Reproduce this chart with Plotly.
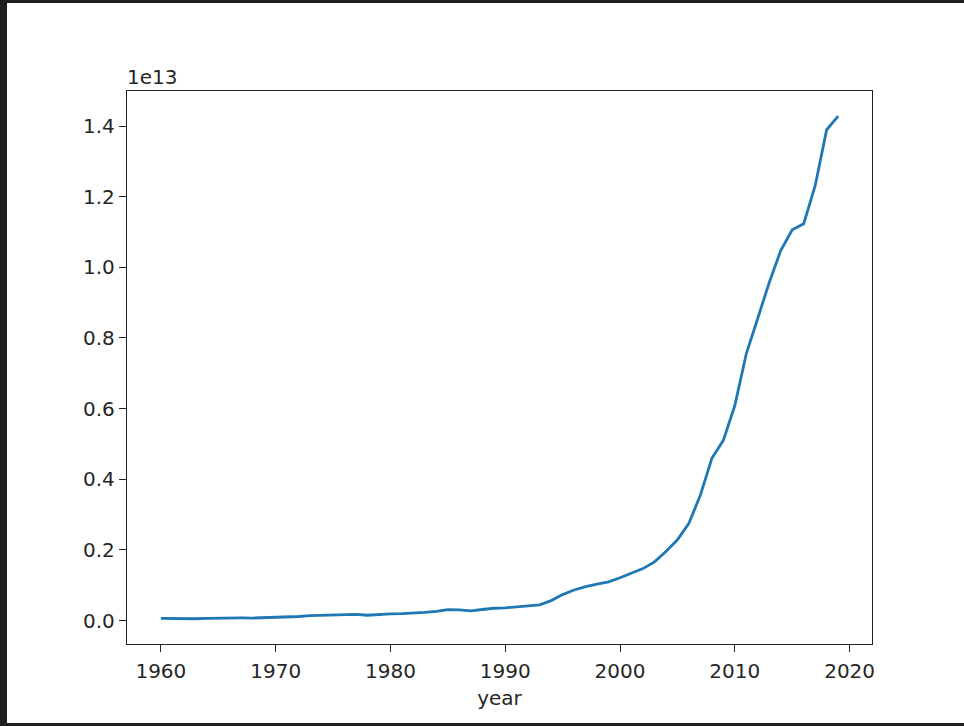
import plotly.graph_objects as go

years = list(range(1960, 2020))
gdp_billion = [
    59.72, 50.06, 47.21, 50.71, 59.71, 70.44, 76.72, 72.88, 70.85, 79.71,
    92.60, 99.80, 113.69, 138.54, 144.18, 163.43, 153.94, 174.94, 149.54, 178.28,
    191.15, 195.87, 205.09, 230.69, 259.95, 309.49, 300.76, 272.97, 312.35, 347.77,
    360.86, 383.37, 426.92, 444.73, 564.32, 734.55, 863.75, 961.60, 1029.04, 1094.00,
    1211.35, 1339.40, 1470.55, 1660.29, 1955.35, 2285.97, 2752.13, 3550.34, 4594.31, 5101.70,
    6087.16, 7551.50, 8532.23, 9570.41, 10475.68, 11061.55, 11233.28, 12310.41, 13894.82, 14279.94,
]
gdp = [v * 1e9 for v in gdp_billion]

x_ticks = [1960, 1970, 1980, 1990, 2000, 2010, 2020]
y_tick_vals = [0.0, 0.2, 0.4, 0.6, 0.8, 1.0, 1.2, 1.4]
y_tick_text = ["0.0", "0.2", "0.4", "0.6", "0.8", "1.0", "1.2", "1.4"]
scale = 1e13

W, H = 964, 726
L, R, T, B = 127, 872, 91, 644
pw, ph = R - L, B - T

fig = go.Figure()
fig.add_trace(go.Scatter(x=years, y=gdp, mode="lines",
                         line=dict(color="#1f77b4", width=2.8), showlegend=False))

xmin, xmax = min(years), max(years)
xpad = (xmax - xmin) * 0.05
ymin, ymax = min(gdp), max(gdp)
ypad = (ymax - ymin) * 0.05

font_col = "#262626"
fig.update_layout(
    width=W, height=H,
    margin=dict(l=L, r=W - R, t=T, b=H - B, pad=0),
    paper_bgcolor="white", plot_bgcolor="white",
    font=dict(family="DejaVu Sans", size=20, color=font_col),
    xaxis=dict(range=[xmin - xpad, xmax + xpad], tickvals=x_ticks,
               showgrid=False, zeroline=False, showline=True, mirror=True,
               linecolor="#222", linewidth=1.3, ticks="outside", ticklen=7,
               tickwidth=1.3, tickcolor="#222", ticklabelstandoff=2,
               title=dict(text="year", standoff=8, font=dict(size=20))),
    yaxis=dict(range=[ymin - ypad, ymax + ypad],
               tickvals=[v * scale for v in y_tick_vals], ticktext=y_tick_text,
               showgrid=False, zeroline=False, showline=True, mirror=True,
               linecolor="#222", linewidth=1.3, ticks="outside", ticklen=7,
               tickwidth=1.3, tickcolor="#222"),
)

fig.add_annotation(text="1e13", xref="paper", yref="paper", x=0, y=1,
                   xanchor="left", yanchor="bottom", showarrow=False,
                   xshift=-2, yshift=0, font=dict(size=20, color=font_col))

def px_x(p):
    return (p - L) / pw

def px_y(p):
    return (B - p) / ph

frame = "#1e1f21"
for x0, y0, x1, y1 in [(0, 0, W, 3), (0, 0, 7, H), (0, 723, W, H)]:
    fig.add_shape(type="rect", xref="paper", yref="paper",
                  x0=px_x(x0), x1=px_x(x1), y0=px_y(y1), y1=px_y(y0),
                  fillcolor=frame, line=dict(width=0), layer="above")

fig.write_html("out.html")
